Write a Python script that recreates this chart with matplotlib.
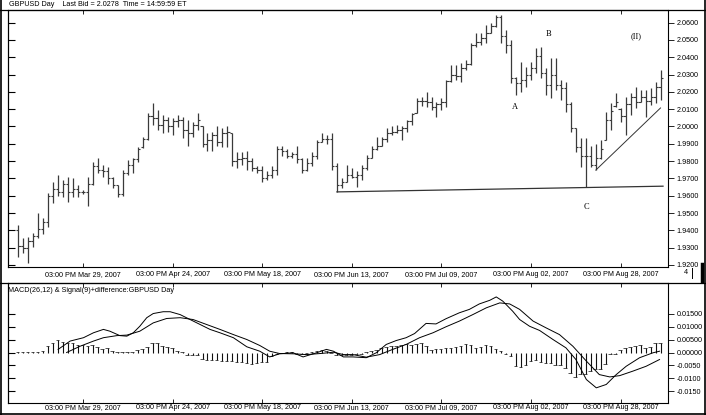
import matplotlib
matplotlib.use("Agg")
import matplotlib.pyplot as plt
from matplotlib.lines import Line2D
import numpy as np

# daily GBPUSD bars, Mar 12 - Sep 7 2007 (one value per bar)
highs = [
    1.943, 1.9356, 1.936, 1.9385, 1.950, 1.947, 1.9615, 1.968, 1.972, 1.969,
    1.971, 1.970, 1.966, 1.9635, 1.971, 1.9795, 1.982, 1.978, 1.9765, 1.971,
    1.966, 1.9748, 1.9806, 1.982, 1.988, 1.994, 2.008, 2.0136, 2.0095, 2.0066,
    2.0055, 2.005, 2.0066, 2.0055, 2.0037, 2.0026, 2.008, 2.000, 1.996, 1.997,
    2.000, 1.999, 2.000, 1.996, 1.985, 1.985, 1.986, 1.982, 1.977, 1.977,
    1.974, 1.977, 1.989, 1.989, 1.987, 1.985, 1.989, 1.982, 1.982, 1.985,
    1.992, 1.996, 1.995, 1.996, 1.979, 1.970, 1.978, 1.976, 1.974, 1.978,
    1.9835, 1.989, 1.994, 1.994, 1.999, 2.000, 2.001, 2.000, 2.004, 2.008,
    2.0165, 2.017, 2.020, 2.017, 2.0143, 2.0165, 2.027, 2.0355, 2.0355, 2.0367,
    2.0384, 2.048, 2.054, 2.054, 2.0587, 2.060, 2.0644, 2.0644, 2.0557, 2.050,
    2.0286, 2.0373, 2.0344, 2.0373, 2.0453, 2.046, 2.0338, 2.0396, 2.0396, 2.027,
    2.0257, 2.0141, 1.999, 1.9934, 1.9934, 1.989, 1.990, 1.992, 2.0084, 2.0136,
    2.0194, 2.0107, 2.017, 2.0194, 2.0228, 2.021, 2.021, 2.022, 2.0257, 2.0326,
]
lows = [
    1.9245, 1.927, 1.921, 1.9303, 1.9355, 1.938, 1.942, 1.956, 1.960, 1.959,
    1.9565, 1.959, 1.959, 1.961, 1.954, 1.966, 1.973, 1.971, 1.967, 1.9645,
    1.959, 1.960, 1.972, 1.973, 1.9795, 1.9876, 1.992, 2.001, 1.998, 1.996,
    1.997, 1.995, 1.9997, 1.9933, 1.989, 1.994, 1.998, 1.988, 1.986, 1.986,
    1.989, 1.988, 1.988, 1.977, 1.976, 1.978, 1.975, 1.974, 1.973, 1.968,
    1.969, 1.970, 1.972, 1.983, 1.982, 1.982, 1.979, 1.973, 1.974, 1.977,
    1.981, 1.991, 1.990, 1.975, 1.9622, 1.9645, 1.968, 1.970, 1.965, 1.969,
    1.975, 1.982, 1.9865, 1.989, 1.991, 1.995, 1.996, 1.992, 1.997, 2.001,
    2.008, 2.012, 2.011, 2.0095, 2.0055, 2.0095, 2.011, 2.0257, 2.0268, 2.0257,
    2.0326, 2.0355, 2.046, 2.047, 2.048, 2.054, 2.0575, 2.048, 2.0425, 2.025,
    2.018, 2.020, 2.0228, 2.0268, 2.031, 2.028, 2.018, 2.0165, 2.021, 2.0153,
    2.0084, 1.997, 1.985, 1.9766, 1.965, 1.9766, 1.9748, 1.981, 1.992, 1.998,
    2.0112, 2.0026, 1.995, 2.0066, 2.0107, 2.0141, 2.0055, 2.0124, 2.0136, 2.0153,
]
opens = [
    1.940, 1.931, 1.930, 1.934, 1.937, 1.941, 1.945, 1.960, 1.964, 1.962,
    1.967, 1.962, 1.964, 1.962, 1.962, 1.967, 1.977, 1.975, 1.974, 1.970,
    1.966, 1.961, 1.973, 1.978, 1.981, 1.988, 1.993, 2.006, 2.005, 2.001,
    2.004, 2.000, 2.003, 2.004, 1.998, 1.996, 2.001, 2.000, 1.990, 1.992,
    1.995, 1.991, 1.996, 1.996, 1.980, 1.981, 1.982, 1.980, 1.976, 1.975,
    1.970, 1.972, 1.975, 1.987, 1.986, 1.983, 1.984, 1.981, 1.975, 1.979,
    1.983, 1.991, 1.993, 1.993, 1.977, 1.966, 1.968, 1.972, 1.971, 1.972,
    1.976, 1.982, 1.987, 1.989, 1.993, 1.996, 1.997, 1.998, 1.999, 2.003,
    2.008, 2.015, 2.015, 2.014, 2.011, 2.013, 2.014, 2.026, 2.030, 2.029,
    2.034, 2.036, 2.047, 2.049, 2.051, 2.054, 2.058, 2.063, 2.052, 2.047,
    2.028, 2.025, 2.027, 2.030, 2.034, 2.041, 2.031, 2.024, 2.030, 2.024,
    2.022, 2.013, 1.999, 1.988, 1.983, 1.983, 1.978, 1.982, 1.992, 2.004,
    2.012, 2.010, 2.006, 2.013, 2.017, 2.014, 2.017, 2.015, 2.017, 2.023,
]
closes = [
    1.931, 1.930, 1.934, 1.937, 1.941, 1.945, 1.960, 1.964, 1.962, 1.967,
    1.962, 1.964, 1.962, 1.962, 1.967, 1.977, 1.975, 1.974, 1.970, 1.966,
    1.961, 1.973, 1.978, 1.981, 1.987, 1.993, 2.006, 2.005, 2.001, 2.004,
    2.000, 2.003, 2.004, 1.998, 1.996, 2.001, 2.004, 1.990, 1.992, 1.995,
    1.991, 1.996, 1.997, 1.980, 1.981, 1.982, 1.980, 1.976, 1.975, 1.970,
    1.972, 1.975, 1.987, 1.986, 1.983, 1.984, 1.981, 1.975, 1.979, 1.983,
    1.991, 1.993, 1.993, 1.977, 1.966, 1.968, 1.972, 1.971, 1.972, 1.976,
    1.982, 1.987, 1.989, 1.993, 1.996, 1.997, 1.998, 1.999, 2.003, 2.007,
    2.015, 2.015, 2.014, 2.011, 2.013, 2.014, 2.026, 2.030, 2.029, 2.034,
    2.036, 2.047, 2.049, 2.051, 2.054, 2.058, 2.063, 2.052, 2.047, 2.028,
    2.025, 2.027, 2.030, 2.034, 2.041, 2.031, 2.024, 2.030, 2.024, 2.022,
    2.013, 1.999, 1.988, 1.983, 1.983, 1.978, 1.982, 1.987, 2.004, 2.009,
    2.014, 2.006, 2.013, 2.017, 2.014, 2.017, 2.015, 2.017, 2.023, 2.0278,
]

# MACD panel, read at sampled bar positions
macd_x = [8.0, 10.4, 13.1, 15.1, 17.1, 18.4, 20.4, 21.8, 23.1, 24.4, 25.8, 27.1,
          29.1, 30.5, 32.5, 34.5, 36.5, 38.5, 40.5, 43.2, 45.9, 48.5, 50.5, 52.5,
          55.2, 57.2, 59.9, 61.9, 63.3, 65.3, 67.2, 69.9, 71.9, 73.9, 75.9, 77.9,
          79.6, 81.9, 83.9, 85.9, 88.6, 90.6, 92.6, 94.7, 96.0, 97.3, 99.3, 100.7,
          102.7, 104.7, 107.4, 110.0, 112.0, 114.1, 116.1, 118.1, 120.1, 122.1,
          124.8, 127.5, 128.8]
macd_y = [0.0012, 0.0044, 0.0057, 0.0076, 0.0089, 0.0082, 0.0065, 0.0063, 0.0076,
          0.0101, 0.0134, 0.0150, 0.0157, 0.0157, 0.0146, 0.0127, 0.0108, 0.0089,
          0.0076, 0.0057, 0.0022, 0.0005, -0.0017, -0.0005, -0.0001, -0.0017,
          -0.0001, 0.0012, 0.0005, -0.0017, -0.0017, -0.0020, -0.0001, 0.0031,
          0.0046, 0.0057, 0.0073, 0.0112, 0.0110, 0.0130, 0.0153, 0.0166, 0.0187,
          0.0201, 0.0214, 0.0198, 0.0159, 0.0127, 0.0101, 0.0085, 0.0050, 0.0018,
          -0.0027, -0.0104, -0.0136, -0.0123, -0.0085, -0.0053, -0.0020, -0.0001,
          0.0005]
signal_x = [9.7, 12.4, 15.1, 17.1, 19.8, 21.8, 24.4, 27.1, 29.8, 32.5, 35.1, 37.8,
            40.5, 43.2, 45.9, 48.5, 50.5, 52.5, 55.2, 57.9, 60.6, 63.3, 65.3, 67.2,
            69.9, 72.6, 75.2, 77.9, 80.6, 83.3, 85.9, 88.6, 91.3, 94.0, 96.7, 98.7,
            100.7, 103.4, 106.0, 108.7, 111.4, 114.1, 116.7, 118.8, 120.8, 123.4,
            126.1, 128.8]
signal_y = [0.0000, 0.0024, 0.0044, 0.0057, 0.0065, 0.0067, 0.0082, 0.0114, 0.0131,
            0.0134, 0.0127, 0.0108, 0.0089, 0.0069, 0.0050, 0.0027, 0.0005, -0.0004,
            -0.0005, -0.0008, -0.0004, 0.0001, -0.0008, -0.0008, -0.0018, -0.0008,
            0.0012, 0.0031, 0.0057, 0.0076, 0.0099, 0.0121, 0.0146, 0.0172, 0.0191,
            0.0187, 0.0166, 0.0121, 0.0095, 0.0069, 0.0024, -0.0033, -0.0085,
            -0.0094, -0.0089, -0.0072, -0.0053, -0.0027]
hist = [
    0.0003, 0.0003, 0.0003, 0.0003, 0.0003, 0.0006, 0.0026, 0.0038, 0.0047, 0.0042,
    0.0038, 0.0035, 0.0029, 0.0029, 0.0026, 0.0029, 0.0022, 0.0013, 0.0017, 0.0006,
    0.0001, 0.0002, 0.0002, 0.0002, 0.0009, 0.0013, 0.0022, 0.0035, 0.0035, 0.0026,
    0.0022, 0.0017, 0.0006, 0.0003, -0.0008, -0.0008, -0.0008, -0.0026, -0.0029, -0.0029,
    -0.0029, -0.0032, -0.0032, -0.0032, -0.0035, -0.0035, -0.0042, -0.0045, -0.0042, -0.0038,
    -0.0035, -0.0013, -0.0004, -0.0003, 0.0002, 0.0003, -0.0004, -0.0006, -0.0003, 0.0003,
    0.0005, 0.0008, 0.0005, -0.0003, -0.0008, -0.0010, -0.0008, -0.0008, -0.0006, -0.0004,
    0.0003, 0.0006, 0.0010, 0.0017, 0.0022, 0.0026, 0.0026, 0.0029, 0.0032, 0.0029,
    0.0032, 0.0038, 0.0026, 0.0009, 0.0013, 0.0015, 0.0019, 0.0019, 0.0022, 0.0026,
    0.0032, 0.0029, 0.0017, 0.0022, 0.0029, 0.0026, 0.0013, 0.0006, -0.0004, -0.0013,
    -0.0051, -0.0055, -0.0049, -0.0032, -0.0029, -0.0035, -0.0042, -0.0042, -0.0047, -0.0047,
    -0.0058, -0.0077, -0.0096, -0.0083, -0.0081, -0.0070, -0.0064, -0.0064, -0.0045, -0.0006,
    -0.0004, 0.0009, 0.0017, 0.0022, 0.0026, 0.0029, 0.0019, 0.0022, 0.0035, 0.0038,
]

tick_pos = [13, 31, 49, 67, 85, 103, 121]
tick_labels = ["03:00 PM Mar 29, 2007", "03:00 PM Apr 24, 2007", "03:00 PM May 18, 2007",
               "03:00 PM Jun 13, 2007", "03:00 PM Jul 09, 2007", "03:00 PM Aug 02, 2007",
               "03:00 PM Aug 28, 2007"]
price_ticks = [1.92, 1.93, 1.94, 1.95, 1.96, 1.97, 1.98, 1.99, 2.00,
               2.01, 2.02, 2.03, 2.04, 2.05, 2.06]
macd_ticks = [0.015, 0.01, 0.005, 0.0, -0.005, -0.01, -0.015]
macd_tick_labels = ["0.01500", "0.01000", "0.00500", "0.00000", "-0.0050", "-0.0100", "-0.0150"]

# hand drawn lines and wave labels on the price chart
support_x = [64, 129.5]
support_y = [1.9622, 1.9655]
trend_x = [116, 129]
trend_y = [1.9748, 2.0107]
wave_labels = ["A", "B", "C", "(II)"]
wave_x = [99.7, 106.4, 114.2, 124.0]
wave_y = [2.0113, 2.0535, 1.9535, 2.0523]

plt.rcParams['font.family'] = ['Liberation Sans', 'DejaVu Sans']
FS = 5.2
W, H = 706, 415
fig = plt.figure(figsize=(W / 100, H / 100), dpi=100)
fig.patch.set_facecolor("white")

def box(x0, y0, x1, y1):
    # pixel box (top-left origin) -> figure fraction rect
    return [x0 / W, 1 - y1 / H, (x1 - x0) / W, (y1 - y0) / H]

ax = fig.add_axes(box(8, 10, 668, 267))
ax2 = fig.add_axes(box(8, 283, 668, 403))

idx = np.arange(len(closes))
bar_col = "#3a3a3a"
ax.vlines(idx, lows, highs, color=bar_col, lw=0.9)
ax.hlines(opens, idx - 0.45, idx, color=bar_col, lw=0.8)
ax.hlines(closes, idx, idx + 0.45, color=bar_col, lw=0.8)
ax.plot(support_x, support_y, color="#333333", lw=0.9)
ax.plot(trend_x, trend_y, color="#333333", lw=0.7)

serif = ['Liberation Serif', 'DejaVu Serif']
for lab, wx, wy in zip(wave_labels, wave_x, wave_y):
    ax.text(wx, wy, lab, fontsize=6, family=serif, ha="center", va="center")

ax.set_xlim(-2.07, 130.5)
ax.set_ylim(1.9188, 2.0673)
ax.yaxis.tick_right()
ax.set_yticks(price_ticks)
ax.set_yticklabels([f"{p:.4f}" for p in price_ticks], fontsize=FS)
ax.tick_params(axis="y", direction="out", length=4, width=0.6, pad=2)
left = ax.secondary_yaxis("left")
left.set_yticks(price_ticks)
left.tick_params(direction="in", length=5, width=0.8, labelleft=False)
ax.set_xticks(tick_pos)
ax.set_xticklabels(tick_labels, fontsize=FS)
ax.tick_params(axis="x", top=True, bottom=True, direction="in", length=3, width=0.6, pad=3)

ax2.vlines(idx, 0, hist, color="#111111", lw=0.8)
ax2.hlines(hist, idx - 0.5, idx + 0.2, color="#111111", lw=0.5)
ax2.plot(macd_x, macd_y, color="black", lw=0.7)
ax2.plot(signal_x, signal_y, color="black", lw=0.7)
ax2.set_xlim(-2.07, 130.5)
ax2.set_ylim(-0.01944, 0.02676)
ax2.yaxis.tick_right()
ax2.set_yticks(macd_ticks)
ax2.set_yticklabels(macd_tick_labels, fontsize=FS)
ax2.tick_params(axis="y", direction="out", length=4, width=0.6, pad=2)
left2 = ax2.secondary_yaxis("left")
left2.set_yticks(macd_ticks)
left2.tick_params(direction="in", length=5, width=0.8, labelleft=False)
ax2.set_xticks(tick_pos)
ax2.set_xticklabels(tick_labels, fontsize=FS)
ax2.tick_params(axis="x", top=True, bottom=True, direction="in", length=3, width=0.6, pad=1)
ax2.text(0.0, 0.965, "MACD(26,12) & Signal(9)+difference:GBPUSD Day", transform=ax2.transAxes,
         fontsize=FS, va="top", ha="left")

for a in (ax, ax2, left, left2):
    for s in a.spines.values():
        s.set_linewidth(0.8)
        s.set_color("black")

# window frame and title row
def fline(x0, y0, x1, y1, lw=1.0):
    fig.add_artist(Line2D([x0 / W, x1 / W], [1 - y0 / H, 1 - y1 / H],
                          transform=fig.transFigure, color="black", lw=lw))

fline(0.5, 0, 0.5, H, 1.2)
fline(W - 1, 0, W - 1, H, 1.2)
fline(0, H - 1, W, H - 1, 1.2)
fline(0, 10, W, 10, 0.9)
fline(0, 283, W, 283, 0.9)
fline(702, 264, 702, 281, 2.5)
fig.text(9 / W, 1 - 5 / H, "GBPUSD Day    Last Bid = 2.0278  Time = 14:59:59 ET",
         fontsize=FS, va="center", ha="left")
fig.text(686 / W, 1 - 273 / H, "4", fontsize=FS, va="center", ha="center")
fline(692, 268, 692, 278, 0.7)

fig.savefig("out.png", dpi=100)
